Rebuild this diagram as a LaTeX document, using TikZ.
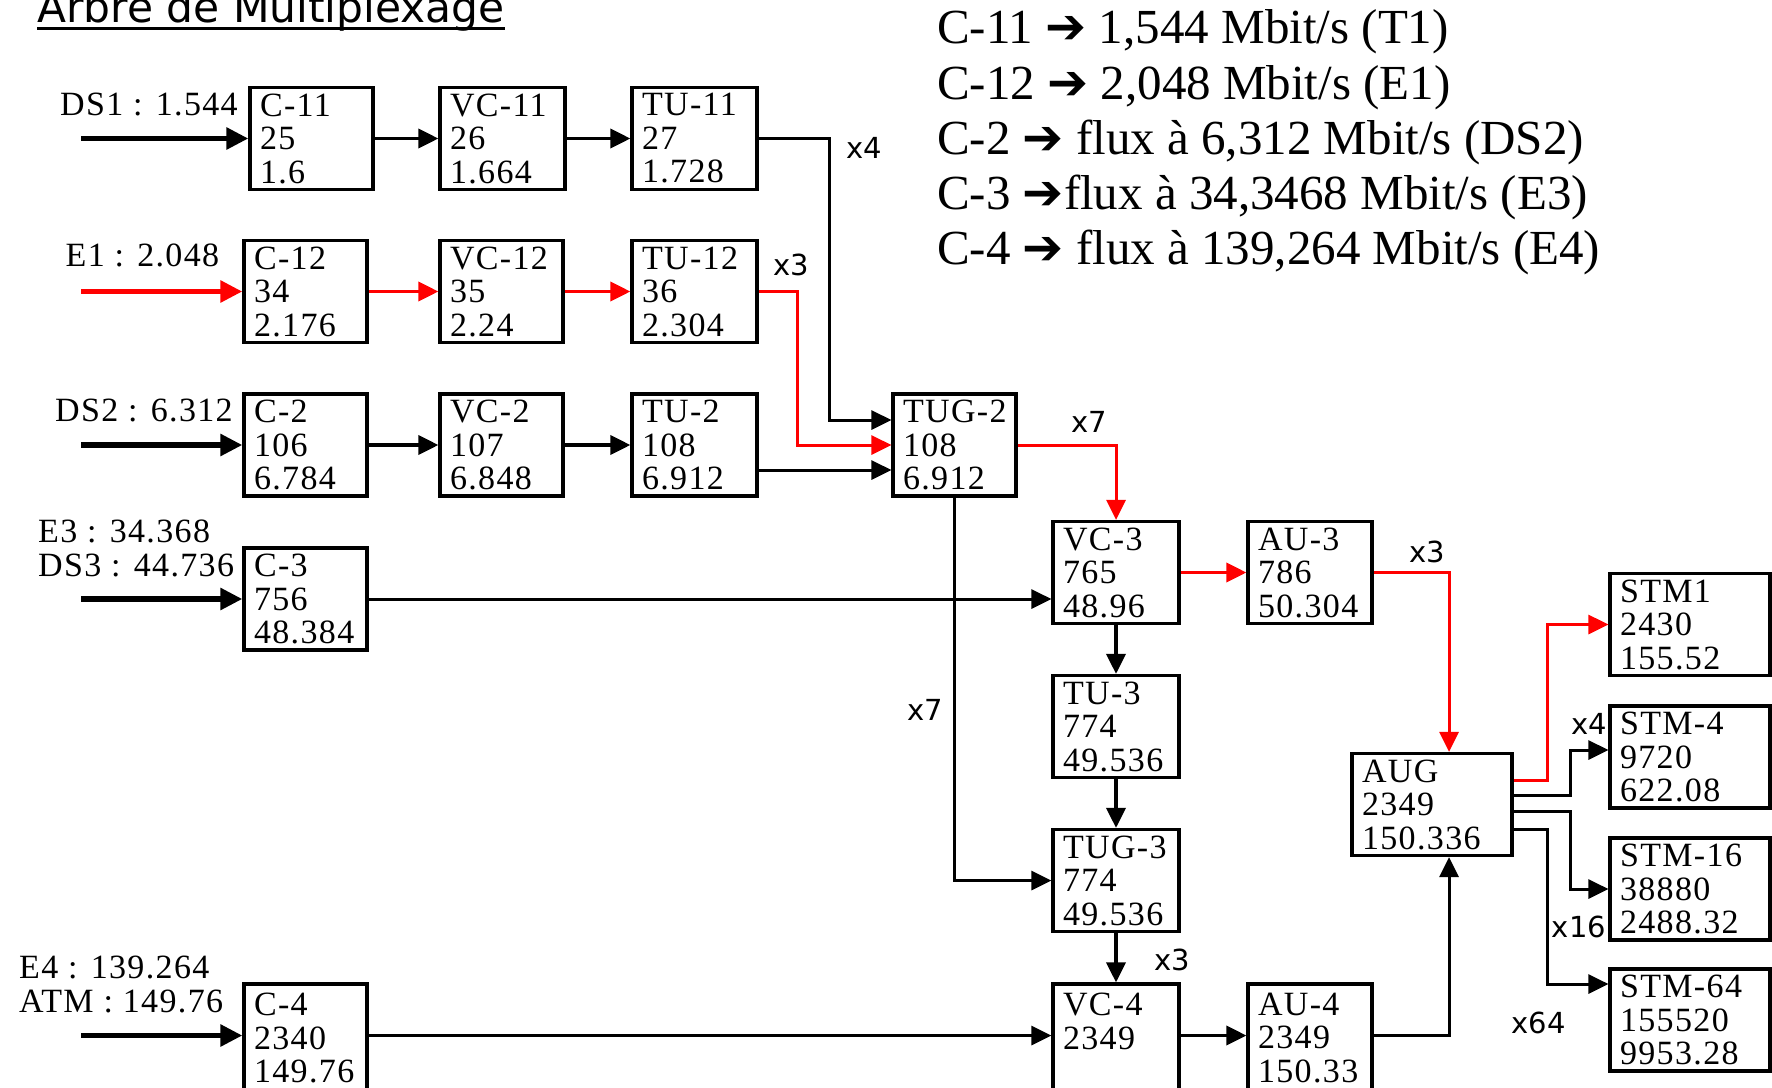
\documentclass[tikz,border=0pt]{standalone}
\usepackage{fontspec}
\setmainfont{Liberation Serif}
\newfontfamily\serf{Liberation Serif}
\newfontfamily\serfls[LetterSpace=4]{Liberation Serif}
\newfontfamily\sanf{DejaVu Sans}
\usetikzlibrary{arrows.meta}
\begin{document}
\begin{tikzpicture}[x=1pt,y=-1pt,
  blk/.style={draw, line width=3.2pt, rectangle, inner xsep=10pt, inner ysep=0pt,
    text width=#1, minimum height=102pt, align=left,
    font=\serfls\fontsize{34pt}{33.5pt}\selectfont},
  lbl/.style={inner sep=0pt, anchor=west, font=\serfls\fontsize{34pt}{34pt}\selectfont},
  mul/.style={inner sep=0pt, font=\sanf\fontsize{29pt}{29pt}\selectfont},
  leg/.style={inner sep=0pt, anchor=west, font=\serf\fontsize{49pt}{55pt}\selectfont},
  inarr/.style={line width=5.6pt, -{Triangle[length=22pt,width=21pt]}},
  conn/.style={line width=3.6pt, -{Triangle[length=20pt,width=19pt]}},
  route/.style={line width=3pt, -{Triangle[length=20pt,width=19pt]}},
]
\useasboundingbox (0,0) rectangle (1772,1087);

% title
\node[inner sep=0pt, anchor=base west, font=\sanf\fontsize{42.4pt}{42pt}\selectfont] (title) at (37,22.6) {Arbre de Multiplexage};
\draw[line width=3pt] ([yshift=-5.5pt]title.base west) -- ([yshift=-5.5pt]title.base east);

% legend
\node[leg] (leg1) at (937,32) {C-11 {\sanf\bfseries ➔} 1,544 Mbit/s (T1)};
\node[leg] (leg2) at (937,87.6) {C-12 {\sanf\bfseries ➔} 2,048 Mbit/s (E1)};
\node[leg] (leg3) at (937,142) {C-2 {\sanf\bfseries ➔} flux à 6,312 Mbit/s (DS2)};
\node[leg] (leg4) at (937,197) {C-3 {\sanf\bfseries ➔}flux à 34,3468 Mbit/s (E3)};
\node[leg] (leg5) at (937,252.6) {C-4 {\sanf\bfseries ➔} flux à 139,264 Mbit/s (E4)};

% input labels
\node[lbl] (l1) at (60,104) {DS1 : 1.544};
\node[lbl] (l2) at (65.5,255) {E1 : 2.048};
\node[lbl] (l3) at (55,410) {DS2 : 6.312};
\node[lbl] (l4) at (38,531) {E3 : 34.368};
\node[lbl] (l5) at (38,565) {DS3 : 44.736};
\node[lbl] (l6) at (19,967) {E4 : 139.264};
\node[lbl] (l7) at (19,1001) {ATM : 149.76};

% boxes
\node[blk=103pt] (C11) at (311.5,138.5) {C-11\\25\\1.6};
\node[blk=105pt] (VC11) at (502.5,138.5) {VC-11\\26\\1.664};
\node[blk=105pt] (TU11) at (694.5,138.5) {TU-11\\27\\1.728};

\node[blk=103pt] (C12) at (305.5,291.5) {C-12\\34\\2.176};
\node[blk=103pt] (VC12) at (501.5,291.5) {VC-12\\35\\2.24};
\node[blk=105pt] (TU12) at (694.5,291.5) {TU-12\\36\\2.304};

\node[blk=103pt] (C2) at (305.5,445) {C-2\\106\\6.784};
\node[blk=103pt] (VC2) at (501.5,445) {VC-2\\107\\6.848};
\node[blk=105pt] (TU2) at (694.5,445) {TU-2\\108\\6.912};
\node[blk=103pt] (TUG2) at (954.5,445) {TUG-2\\108\\6.912};

\node[blk=103pt] (C3) at (305.5,599) {C-3\\756\\48.384};
\node[blk=106pt] (VC3) at (1116,572.5) {VC-3\\765\\48.96};
\node[blk=104pt] (AU3) at (1310,572.5) {AU-3\\786\\50.304};
\node[blk=106pt] (TU3) at (1116,726.5) {TU-3\\774\\49.536};
\node[blk=106pt] (TUG3) at (1116,880.5) {TUG-3\\774\\49.536};

\node[blk=103pt, minimum height=108pt] (C4) at (305.5,1038) {C-4\\2340\\149.76};
\node[blk=106pt, minimum height=108pt] (VC4) at (1116,1038) {VC-4\\2349\\\phantom{0}};
\node[blk=104pt, minimum height=108pt] (AU4) at (1310,1038) {AU-4\\2349\\150.33};

\node[blk=140pt] (AUG) at (1432,804.5) {AUG\\2349\\150.336};
\node[blk=140pt] (STM1) at (1690,624.5) {STM1\\2430\\155.52};
\node[blk=140pt] (STM4) at (1690,757) {STM-4\\9720\\622.08};
\node[blk=140pt] (STM16) at (1690,889) {STM-16\\38880\\2488.32};
\node[blk=140pt] (STM64) at (1690,1020) {STM-64\\155520\\9953.28};

% input arrows
\coordinate (in1) at (81,138.5);
\coordinate (in2) at (81,291.5);
\coordinate (in3) at (81,445);
\coordinate (in4) at (81,599);
\coordinate (in5) at (81,1035.5);
\draw[inarr] (in1) -- (in1 -| C11.west);
\draw[inarr, red] (in2) -- (in2 -| C12.west);
\draw[inarr] (in3) -- (in3 -| C2.west);
\draw[inarr] (in4) -- (in4 -| C3.west);
\draw[inarr] (in5) -- (in5 -| C4.west);

% row connectors
\draw[conn] (C11.east) -- (VC11.west);
\draw[conn] (VC11.east) -- (TU11.west);
\draw[conn, red] (C12.east) -- (VC12.west);
\draw[conn, red] (VC12.east) -- (TU12.west);
\draw[conn] (C2.east) -- (VC2.west);
\draw[conn] (VC2.east) -- (TU2.west);

% into TUG-2
\draw[route] (TU11.east) -- ++(71,0) |- ([yshift=25pt]TUG2.west);
\draw[route, red] (TU12.east) -- ++(38.6,0) |- (TUG2.west);
\draw[route] ([yshift=-25pt]TU2.east) -- ([yshift=-25pt]TUG2.west);
\node[mul] (m1) at (864.5,148) {x4};
\node[mul] (m2) at (791,264.5) {x3};

% TUG-2 onwards
\draw[route, red] (TUG2.east) -| (VC3.north);
\node[mul] (m3) at (1089.5,421.5) {x7};
\draw[route] (TUG2.south) |- (TUG3.west);
\node[mul] (m4) at (925.5,710) {x7};
\draw[route] (C3.east) -- (C3.east -| VC3.west);
\draw[conn, red] (VC3.east) -- (AU3.west);
\draw[route, red] (AU3.east) -| ([xshift=17pt]AUG.north);
\node[mul] (m5) at (1427,551.5) {x3};
\draw[conn] (VC3.south) -- (TU3.north);
\draw[conn] (TU3.south) -- (TUG3.north);
\draw[conn] (TUG3.south) -- (VC4.north);
\node[mul] (m6) at (1172,959.5) {x3};
\draw[route] (C4.east |- in5) -- (VC4.west |- in5);
\draw[conn] (VC4.east |- in5) -- (AU4.west |- in5);
\draw[route] (AU4.east |- in5) -| ([xshift=17pt]AUG.south);

% AUG to STM
\draw[route, red] ([yshift=24.5pt]AUG.east) -- ++(34,0) |- (STM1.west);
\draw[route] ([yshift=9pt]AUG.east) -- ++(56.5,0) |- ([yshift=7pt]STM4.west);
\draw[route] ([yshift=-6.5pt]AUG.east) -- ++(56.5,0) |- (STM16.west);
\draw[route] ([yshift=-25pt]AUG.east) -- ++(34,0) |- ([yshift=36pt]STM64.west);
\node[mul] (m7) at (1589.5,724) {x4};
\node[mul] (m8) at (1579,926.6) {x16};
\node[mul] (m9) at (1538.6,1023) {x64};
\end{tikzpicture}
\end{document}
